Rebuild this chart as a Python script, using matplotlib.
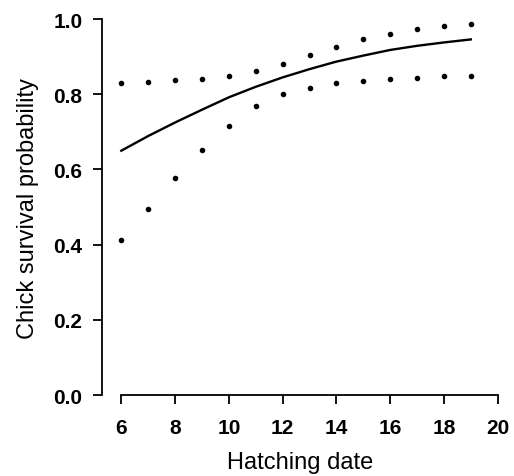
import matplotlib
matplotlib.use("Agg")
import matplotlib.pyplot as plt

# hatching dates and estimated chick survival probability with CI
dates = [6, 7, 8, 9, 10, 11, 12, 13, 14, 15, 16, 17, 18, 19]
survival = [0.650, 0.689, 0.725, 0.759, 0.792, 0.820, 0.845, 0.867,
            0.887, 0.903, 0.918, 0.929, 0.938, 0.946]
upper_ci = [0.829, 0.833, 0.837, 0.842, 0.850, 0.862, 0.881, 0.904,
            0.927, 0.946, 0.961, 0.973, 0.981, 0.986]
lower_ci = [0.413, 0.495, 0.577, 0.652, 0.717, 0.768, 0.801, 0.818,
            0.829, 0.835, 0.840, 0.844, 0.848, 0.850]
xticks = [6, 8, 10, 12, 14, 16, 18, 20]
yticks = [0.0, 0.2, 0.4, 0.6, 0.8, 1.0]

plt.rcParams["font.family"] = ["Liberation Sans", "DejaVu Sans"]

fig = plt.figure(figsize=(5.14, 4.77), dpi=100)
ax = fig.add_axes([0.1994, 0.1698, 0.769, 0.788])

ax.plot(dates, survival, color="black", linewidth=1.7, clip_on=False)
ax.plot(dates, upper_ci, "o", color="black", markersize=3, clip_on=False)
ax.plot(dates, lower_ci, "o", color="black", markersize=3, clip_on=False)

ax.set_xlim(5.3, 20)
ax.set_ylim(0, 1)
ax.set_xticks(xticks)
ax.set_yticks(yticks)
ax.set_yticklabels(["%.1f" % v for v in yticks])

for side in ["top", "right"]:
    ax.spines[side].set_visible(False)
ax.spines["left"].set_bounds(0, 1)
ax.spines["bottom"].set_bounds(6, 20)
for side in ["left", "bottom"]:
    ax.spines[side].set_linewidth(1.3)

ax.tick_params(direction="out", length=6.5, width=1.3, labelsize=15)
ax.tick_params(axis="y", pad=8)
ax.tick_params(axis="x", pad=10)
for lab in ax.get_xticklabels() + ax.get_yticklabels():
    lab.set_fontweight("bold")

ax.set_xlabel("Hatching date", fontsize=17, labelpad=10)
ax.set_ylabel("Chick survival probability", fontsize=17, labelpad=10)

plt.savefig("out.png", dpi=100)
plt.close()
